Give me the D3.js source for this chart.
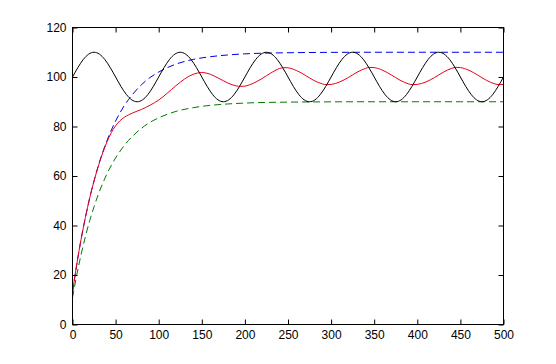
<!DOCTYPE html>
<html>
<head>
<meta charset="utf-8">
<script src="https://cdn.jsdelivr.net/npm/d3@7"></script>
<style>
  html, body { margin: 0; padding: 0; background: #ffffff; }
  svg { display: block; }
  .tick text { font-family: Arial, "Liberation Sans", Helvetica, sans-serif; font-size: 12px; fill: #000; }
</style>
</head>
<body>
<svg id="chart" width="556" height="364"></svg>
<script>
// ---- data ----
const xTicks = [0, 50, 100, 150, 200, 250, 300, 350, 400, 450, 500];
const yTicks = [0, 20, 40, 60, 80, 100, 120];

// black oscillating signal
const tBlack = [0,12.5,25,37.5,50,62.5,75,87.5,100,112.5,125,137.5,150,162.5,175,187.5,200,212.5,225,237.5,250,262.5,275,287.5,300,312.5,325,337.5,350,362.5,375,387.5,400,412.5,425,437.5,450,462.5,475,487.5,500];
const vBlack = [100,107.07,110,107.07,100,92.93,90,92.93,100,107.07,110,107.07,100,92.93,90,92.93,100,107.07,110,107.07,100,92.93,90,92.93,100,107.07,110,107.07,100,92.93,90,92.93,100,107.07,110,107.07,100,92.93,90,92.93,100];

// upper (blue dashed) and lower (green dashed) bounds
const tBound = [0,5,10,15,20,25,30,40,50,60,70,80,90,100,120,140,160,180,200,250,300,350,400,450,500];
const vBlue  = [13.2,24.4,34.5,43.3,51.2,58.1,64.2,74.3,82.2,88.4,93.1,96.9,99.8,102,105.2,107.1,108.2,108.9,109.35,109.8,109.95,110,110,110,110];
const vGreen = [10.8,20.1,28.3,35.6,42,47.6,52.6,60.9,67.3,72.3,76.2,79.3,81.7,83.5,86.1,87.6,88.55,89.1,89.47,89.85,89.96,90,90,90,90];

// red response
const tRed = [0,5,10,15,20,25,30,35,40,45,50,55,60,65,70,75,80,85,90,95,100,105,110,115,120,125,130,135,140,145,150,155,160,165,170,175,180,185,190,195,200,205,210,220,230,240,245,250,260,270,280,290,295,300,310,320,330,340,345,350,360,370,380,390,395,400,410,420,430,440,445,450,460,470,480,490,495,500];
const vRed = [13,24.4,34.5,43.3,51.2,58,64,69.3,73.8,77.5,80.3,82.3,83.7,84.7,85.5,86.2,86.9,87.7,88.6,89.6,90.7,92,93.5,95,96.5,97.9,99.2,100.3,101.1,101.6,101.8,101.6,101.1,100.3,99.4,98.5,97.6,96.9,96.4,96.2,96.3,96.8,97.5,99.4,101.6,103.4,103.8,103.7,102.6,100.7,98.6,97.2,96.9,97,98,99.8,101.9,103.5,103.9,103.8,102.7,100.8,98.7,97.2,96.9,97,98,99.8,101.9,103.5,103.9,103.8,102.7,100.8,98.7,97.2,96.9,97];

// ---- drawing ----
const svg = d3.select("#chart");
svg.append("rect").attr("width", 556).attr("height", 364).attr("fill", "#ffffff");

const L = 72.5, R = 503.5, T = 27.5, B = 324.5;
const x = d3.scaleLinear().domain([0, 500]).range([L, R]);
const y = d3.scaleLinear().domain([0, 120]).range([B, T]);

function drawSeries(ts, vs, color, dash, curve) {
  const pts = ts.map((t, i) => [t, vs[i]]);
  const line = d3.line().x(d => x(d[0])).y(d => y(d[1])).curve(curve);
  const p = svg.append("path")
    .datum(pts)
    .attr("d", line)
    .attr("fill", "none")
    .attr("stroke", color)
    .attr("stroke-width", 1);
  if (dash) p.attr("stroke-dasharray", dash);
}

drawSeries(tBound, vBlue, "#0000e6", "7,4", d3.curveMonotoneX);
drawSeries(tBound, vGreen, "#007a00", "7,4", d3.curveMonotoneX);
drawSeries(tRed, vRed, "#e8001a", null, d3.curveMonotoneX);
drawSeries(tBlack, vBlack, "#000000", null, d3.curveNatural);

// axes with inward ticks on all four sides
const axB = svg.append("g").attr("transform", `translate(0,${B})`)
  .call(d3.axisBottom(x).tickValues(xTicks).tickFormat(d3.format("d")).tickSizeInner(-5).tickSizeOuter(0).tickPadding(6));
const axT = svg.append("g").attr("transform", `translate(0,${T})`)
  .call(d3.axisTop(x).tickValues(xTicks).tickFormat("").tickSizeInner(-5).tickSizeOuter(0));
const axL = svg.append("g").attr("transform", `translate(${L},0)`)
  .call(d3.axisLeft(y).tickValues(yTicks).tickFormat(d3.format("d")).tickSizeInner(-5).tickSizeOuter(0).tickPadding(6));
const axR = svg.append("g").attr("transform", `translate(${R},0)`)
  .call(d3.axisRight(y).tickValues(yTicks).tickFormat("").tickSizeInner(-5).tickSizeOuter(0));

[axB, axT, axL, axR].forEach(g => {
  g.select(".domain").remove();
  g.selectAll(".tick line").attr("stroke", "#000").attr("stroke-width", 1);
});

// box
svg.append("rect")
  .attr("x", L).attr("y", T)
  .attr("width", R - L).attr("height", B - T)
  .attr("fill", "none").attr("stroke", "#000").attr("stroke-width", 1);
</script>
</body>
</html>
